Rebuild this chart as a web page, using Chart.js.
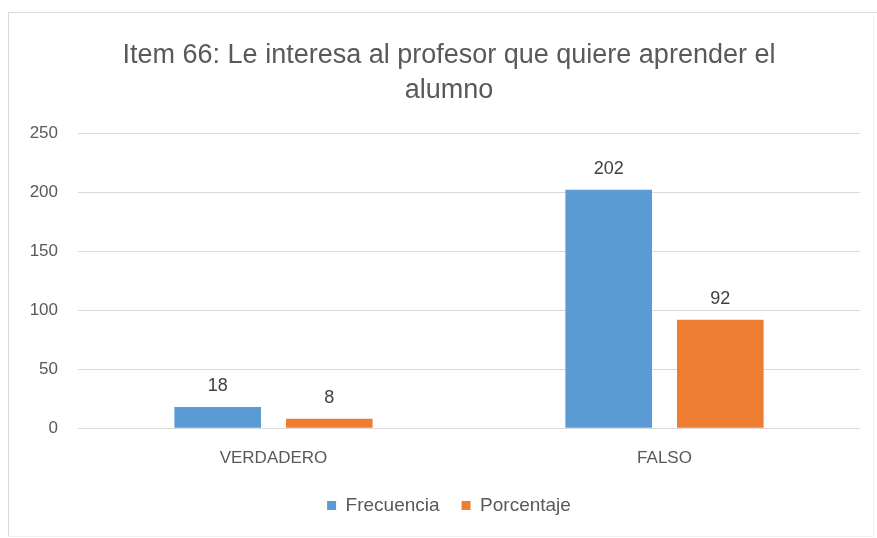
<!DOCTYPE html>
<html>
<head>
<meta charset="utf-8">
<script src="https://cdn.jsdelivr.net/npm/chart.js@4.4.1/dist/chart.umd.min.js"></script>
<style>
  html, body { margin: 0; padding: 0; background: #ffffff; overflow: hidden; }
  #wrap { width: 877px; height: 538px; position: relative; }
</style>
</head>
<body>
<div id="wrap"><canvas id="chart" width="877" height="538"></canvas></div>
<script>
// Chart data
const categories = ["VERDADERO", "FALSO"];
const frecuencia = [18, 202];
const porcentaje = [8, 92];
const seriesNames = ["Frecuencia", "Porcentaje"];
const yTicks = [0, 50, 100, 150, 200, 250];
const titleLines = ["Item 66: Le interesa al profesor que quiere aprender el", "alumno"];

const FONT = '"Liberation Sans", Arial, sans-serif';
const TEXT = "#595959";

// Light grey frame around the whole chart
const frame = {
  id: "frame",
  beforeDraw(chart) {
    const ctx = chart.ctx;
    ctx.save();
    ctx.fillStyle = "#ffffff";
    ctx.fillRect(0, 0, chart.width, chart.height);
    ctx.strokeStyle = "#d9d9d9";
    ctx.lineWidth = 1;
    ctx.beginPath();
    ctx.moveTo(8.5, chart.height - 1.5);
    ctx.lineTo(8.5, 12.5);
    ctx.lineTo(chart.width, 12.5);
    ctx.stroke();
    ctx.strokeStyle = "#f0f0f0";
    ctx.beginPath();
    ctx.moveTo(873.5, 12.5);
    ctx.lineTo(873.5, chart.height - 1.5);
    ctx.moveTo(8.5, chart.height - 1.5);
    ctx.lineTo(873.5, chart.height - 1.5);
    ctx.stroke();
    ctx.restore();
  }
};

// Value labels above each bar
const valueLabels = {
  id: "valueLabels",
  afterDatasetsDraw(chart) {
    const ctx = chart.ctx;
    ctx.save();
    ctx.fillStyle = "#404040";
    ctx.font = "18px " + FONT;
    ctx.textAlign = "center";
    ctx.textBaseline = "middle";
    chart.data.datasets.forEach((ds, i) => {
      chart.getDatasetMeta(i).data.forEach((bar, j) => {
        ctx.fillText(String(ds.data[j]), bar.x, bar.y - 21);
      });
    });
    ctx.restore();
  }
};

new Chart(document.getElementById("chart"), {
  type: "bar",
  data: {
    labels: categories,
    datasets: [
      { label: seriesNames[0], data: frecuencia, backgroundColor: "#5b9bd5" },
      { label: seriesNames[1], data: porcentaje, backgroundColor: "#ed7d31" }
    ]
  },
  options: {
    responsive: false,
    animation: false,
    // the chart is wider than the visible window; its right edge runs past it
    layout: { padding: { left: 8, right: -13, top: 0, bottom: 13 } },
    datasets: { bar: { categoryPercentage: 0.571, barPercentage: 0.776 } },
    scales: {
      x: {
        afterFit(scale) { scale.height = 45.7; },
        grid: { display: false },
        border: { display: false },
        ticks: { color: TEXT, font: { family: FONT, size: 17 }, padding: 11.5 }
      },
      y: {
        min: 0, max: 250,
        afterBuildTicks(scale) { scale.ticks = yTicks.map(v => ({ value: v })); },
        afterFit(scale) { scale.width = 70; },
        grid: { color: "#d9d9d9", drawTicks: false },
        border: { display: false },
        ticks: { color: TEXT, font: { family: FONT, size: 17 }, padding: 20 }
      },
      // empty right-hand margin of the plot area
      yRight: {
        position: "right",
        min: 0, max: 250,
        afterFit(scale) { scale.width = 30; },
        grid: { display: false },
        border: { display: false },
        ticks: { display: false }
      }
    },
    plugins: {
      title: {
        display: true,
        text: titleLines,
        color: TEXT,
        font: { family: FONT, size: 27, weight: "normal", lineHeight: 1.3 },
        padding: { top: 38, bottom: 25 }
      },
      legend: {
        position: "bottom",
        labels: {
          color: TEXT,
          font: { family: FONT, size: 19 },
          boxWidth: 9, boxHeight: 9,
          padding: 22
        }
      },
      tooltip: { enabled: false }
    }
  },
  plugins: [frame, valueLabels]
});
</script>
</body>
</html>
